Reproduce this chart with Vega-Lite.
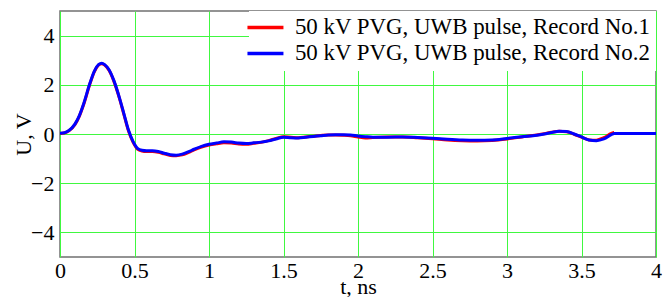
{
  "$schema": "https://vega.github.io/schema/vega-lite/v6.json",
  "width": 596,
  "height": 246,
  "autosize": "none",
  "padding": {"left": 60, "top": 11, "right": 13, "bottom": 40},
  "background": "white",
  "config": {
    "font": "Liberation Serif",
    "view": {"stroke": "#707070", "strokeWidth": 1.5},
    "axis": {
      "grid": true,
      "gridColor": "#40f840",
      "gridWidth": 1,
      "gridOpacity": 1,
      "ticks": false,
      "domain": false,
      "labelFont": "Liberation Serif",
      "labelFontSize": 22,
      "labelColor": "#000",
      "titleFont": "Liberation Serif",
      "titleFontSize": 22,
      "titleFontWeight": "normal",
      "titleColor": "#000"
    }
  },
  "data": {
    "values": [
      {"t": 0, "u": 0.02, "s": "Record No.1"},
      {"t": 0.03, "u": 0.04, "s": "Record No.1"},
      {"t": 0.06, "u": 0.13, "s": "Record No.1"},
      {"t": 0.1, "u": 0.38, "s": "Record No.1"},
      {"t": 0.13, "u": 0.73, "s": "Record No.1"},
      {"t": 0.16, "u": 1.22, "s": "Record No.1"},
      {"t": 0.2, "u": 2.02, "s": "Record No.1"},
      {"t": 0.23, "u": 2.53, "s": "Record No.1"},
      {"t": 0.26, "u": 2.81, "s": "Record No.1"},
      {"t": 0.28, "u": 2.86, "s": "Record No.1"},
      {"t": 0.3, "u": 2.8, "s": "Record No.1"},
      {"t": 0.33, "u": 2.58, "s": "Record No.1"},
      {"t": 0.36, "u": 2.17, "s": "Record No.1"},
      {"t": 0.4, "u": 1.43, "s": "Record No.1"},
      {"t": 0.43, "u": 0.77, "s": "Record No.1"},
      {"t": 0.46, "u": 0.12, "s": "Record No.1"},
      {"t": 0.49, "u": -0.33, "s": "Record No.1"},
      {"t": 0.52, "u": -0.61, "s": "Record No.1"},
      {"t": 0.55, "u": -0.69, "s": "Record No.1"},
      {"t": 0.58, "u": -0.71, "s": "Record No.1"},
      {"t": 0.62, "u": -0.71, "s": "Record No.1"},
      {"t": 0.66, "u": -0.74, "s": "Record No.1"},
      {"t": 0.7, "u": -0.81, "s": "Record No.1"},
      {"t": 0.74, "u": -0.87, "s": "Record No.1"},
      {"t": 0.78, "u": -0.88, "s": "Record No.1"},
      {"t": 0.82, "u": -0.85, "s": "Record No.1"},
      {"t": 0.86, "u": -0.76, "s": "Record No.1"},
      {"t": 0.9, "u": -0.65, "s": "Record No.1"},
      {"t": 0.95, "u": -0.53, "s": "Record No.1"},
      {"t": 1.0, "u": -0.45, "s": "Record No.1"},
      {"t": 1.05, "u": -0.4, "s": "Record No.1"},
      {"t": 1.1, "u": -0.36, "s": "Record No.1"},
      {"t": 1.15, "u": -0.37, "s": "Record No.1"},
      {"t": 1.2, "u": -0.41, "s": "Record No.1"},
      {"t": 1.25, "u": -0.42, "s": "Record No.1"},
      {"t": 1.3, "u": -0.38, "s": "Record No.1"},
      {"t": 1.35, "u": -0.34, "s": "Record No.1"},
      {"t": 1.4, "u": -0.27, "s": "Record No.1"},
      {"t": 1.45, "u": -0.18, "s": "Record No.1"},
      {"t": 1.5, "u": -0.11, "s": "Record No.1"},
      {"t": 1.55, "u": -0.13, "s": "Record No.1"},
      {"t": 1.6, "u": -0.15, "s": "Record No.1"},
      {"t": 1.65, "u": -0.12, "s": "Record No.1"},
      {"t": 1.7, "u": -0.09, "s": "Record No.1"},
      {"t": 1.75, "u": -0.06, "s": "Record No.1"},
      {"t": 1.8, "u": -0.04, "s": "Record No.1"},
      {"t": 1.85, "u": -0.04, "s": "Record No.1"},
      {"t": 1.9, "u": -0.05, "s": "Record No.1"},
      {"t": 1.95, "u": -0.07, "s": "Record No.1"},
      {"t": 2.0, "u": -0.12, "s": "Record No.1"},
      {"t": 2.05, "u": -0.16, "s": "Record No.1"},
      {"t": 2.1, "u": -0.14, "s": "Record No.1"},
      {"t": 2.2, "u": -0.12, "s": "Record No.1"},
      {"t": 2.3, "u": -0.12, "s": "Record No.1"},
      {"t": 2.4, "u": -0.15, "s": "Record No.1"},
      {"t": 2.5, "u": -0.19, "s": "Record No.1"},
      {"t": 2.6, "u": -0.24, "s": "Record No.1"},
      {"t": 2.7, "u": -0.27, "s": "Record No.1"},
      {"t": 2.8, "u": -0.28, "s": "Record No.1"},
      {"t": 2.9, "u": -0.26, "s": "Record No.1"},
      {"t": 3.0, "u": -0.2, "s": "Record No.1"},
      {"t": 3.1, "u": -0.12, "s": "Record No.1"},
      {"t": 3.2, "u": -0.04, "s": "Record No.1"},
      {"t": 3.25, "u": 0.01, "s": "Record No.1"},
      {"t": 3.3, "u": 0.07, "s": "Record No.1"},
      {"t": 3.35, "u": 0.11, "s": "Record No.1"},
      {"t": 3.4, "u": 0.09, "s": "Record No.1"},
      {"t": 3.45, "u": -0.01, "s": "Record No.1"},
      {"t": 3.5, "u": -0.13, "s": "Record No.1"},
      {"t": 3.55, "u": -0.24, "s": "Record No.1"},
      {"t": 3.6, "u": -0.25, "s": "Record No.1"},
      {"t": 3.65, "u": -0.15, "s": "Record No.1"},
      {"t": 3.7, "u": 0.02, "s": "Record No.1"},
      {"t": 3.72, "u": 0.06, "s": "Record No.1"},

      {"t": 0, "u": 0.03, "s": "Record No.2"},
      {"t": 0.03, "u": 0.05, "s": "Record No.2"},
      {"t": 0.06, "u": 0.14, "s": "Record No.2"},
      {"t": 0.1, "u": 0.4, "s": "Record No.2"},
      {"t": 0.13, "u": 0.75, "s": "Record No.2"},
      {"t": 0.16, "u": 1.25, "s": "Record No.2"},
      {"t": 0.2, "u": 2.05, "s": "Record No.2"},
      {"t": 0.23, "u": 2.55, "s": "Record No.2"},
      {"t": 0.26, "u": 2.83, "s": "Record No.2"},
      {"t": 0.28, "u": 2.88, "s": "Record No.2"},
      {"t": 0.3, "u": 2.82, "s": "Record No.2"},
      {"t": 0.33, "u": 2.6, "s": "Record No.2"},
      {"t": 0.36, "u": 2.2, "s": "Record No.2"},
      {"t": 0.4, "u": 1.45, "s": "Record No.2"},
      {"t": 0.43, "u": 0.8, "s": "Record No.2"},
      {"t": 0.46, "u": 0.15, "s": "Record No.2"},
      {"t": 0.49, "u": -0.3, "s": "Record No.2"},
      {"t": 0.52, "u": -0.58, "s": "Record No.2"},
      {"t": 0.55, "u": -0.66, "s": "Record No.2"},
      {"t": 0.58, "u": -0.68, "s": "Record No.2"},
      {"t": 0.62, "u": -0.68, "s": "Record No.2"},
      {"t": 0.66, "u": -0.71, "s": "Record No.2"},
      {"t": 0.7, "u": -0.78, "s": "Record No.2"},
      {"t": 0.74, "u": -0.84, "s": "Record No.2"},
      {"t": 0.78, "u": -0.86, "s": "Record No.2"},
      {"t": 0.82, "u": -0.82, "s": "Record No.2"},
      {"t": 0.86, "u": -0.73, "s": "Record No.2"},
      {"t": 0.9, "u": -0.62, "s": "Record No.2"},
      {"t": 0.95, "u": -0.5, "s": "Record No.2"},
      {"t": 1.0, "u": -0.42, "s": "Record No.2"},
      {"t": 1.05, "u": -0.37, "s": "Record No.2"},
      {"t": 1.1, "u": -0.32, "s": "Record No.2"},
      {"t": 1.15, "u": -0.33, "s": "Record No.2"},
      {"t": 1.2, "u": -0.37, "s": "Record No.2"},
      {"t": 1.25, "u": -0.39, "s": "Record No.2"},
      {"t": 1.3, "u": -0.36, "s": "Record No.2"},
      {"t": 1.35, "u": -0.33, "s": "Record No.2"},
      {"t": 1.4, "u": -0.28, "s": "Record No.2"},
      {"t": 1.45, "u": -0.2, "s": "Record No.2"},
      {"t": 1.5, "u": -0.13, "s": "Record No.2"},
      {"t": 1.55, "u": -0.15, "s": "Record No.2"},
      {"t": 1.6, "u": -0.16, "s": "Record No.2"},
      {"t": 1.65, "u": -0.13, "s": "Record No.2"},
      {"t": 1.7, "u": -0.1, "s": "Record No.2"},
      {"t": 1.75, "u": -0.07, "s": "Record No.2"},
      {"t": 1.8, "u": -0.04, "s": "Record No.2"},
      {"t": 1.85, "u": -0.03, "s": "Record No.2"},
      {"t": 1.9, "u": -0.03, "s": "Record No.2"},
      {"t": 1.95, "u": -0.04, "s": "Record No.2"},
      {"t": 2.0, "u": -0.08, "s": "Record No.2"},
      {"t": 2.05, "u": -0.11, "s": "Record No.2"},
      {"t": 2.1, "u": -0.13, "s": "Record No.2"},
      {"t": 2.2, "u": -0.13, "s": "Record No.2"},
      {"t": 2.3, "u": -0.12, "s": "Record No.2"},
      {"t": 2.4, "u": -0.14, "s": "Record No.2"},
      {"t": 2.5, "u": -0.17, "s": "Record No.2"},
      {"t": 2.6, "u": -0.21, "s": "Record No.2"},
      {"t": 2.7, "u": -0.24, "s": "Record No.2"},
      {"t": 2.8, "u": -0.25, "s": "Record No.2"},
      {"t": 2.9, "u": -0.24, "s": "Record No.2"},
      {"t": 3.0, "u": -0.18, "s": "Record No.2"},
      {"t": 3.1, "u": -0.11, "s": "Record No.2"},
      {"t": 3.2, "u": -0.05, "s": "Record No.2"},
      {"t": 3.25, "u": 0.0, "s": "Record No.2"},
      {"t": 3.3, "u": 0.06, "s": "Record No.2"},
      {"t": 3.35, "u": 0.11, "s": "Record No.2"},
      {"t": 3.4, "u": 0.1, "s": "Record No.2"},
      {"t": 3.45, "u": 0.0, "s": "Record No.2"},
      {"t": 3.5, "u": -0.12, "s": "Record No.2"},
      {"t": 3.55, "u": -0.24, "s": "Record No.2"},
      {"t": 3.6, "u": -0.27, "s": "Record No.2"},
      {"t": 3.65, "u": -0.2, "s": "Record No.2"},
      {"t": 3.7, "u": -0.03, "s": "Record No.2"},
      {"t": 3.72, "u": 0.02, "s": "Record No.2"},
      {"t": 3.8, "u": 0.02, "s": "Record No.2"},
      {"t": 4.0, "u": 0.02, "s": "Record No.2"}
    ]
  },
  "mark": {"type": "line", "strokeWidth": 3, "clip": true, "interpolate": "monotone"},
  "encoding": {
    "x": {
      "field": "t",
      "type": "quantitative",
      "scale": {"domain": [0, 4], "nice": false, "zero": false},
      "axis": {
        "values": [0, 0.5, 1, 1.5, 2, 2.5, 3, 3.5, 4],
        "format": "~g",
        "labelPadding": 3,
        "labelFlush": false,
        "title": "t, ns",
        "titlePadding": -5
      }
    },
    "y": {
      "field": "u",
      "type": "quantitative",
      "scale": {"domain": [-5, 5], "nice": false},
      "axis": {
        "values": [-4, -2, 0, 2, 4],
        "labelPadding": 6,
        "title": "U, V",
        "titlePadding": -5
      }
    },
    "color": {
      "field": "s",
      "type": "nominal",
      "scale": {"domain": ["Record No.1", "Record No.2"], "range": ["#ff0000", "#0000ff"]},
      "legend": {
        "title": null,
        "orient": "top-right",
        "offset": 0,
        "labelExpr": "'50 kV PVG, UWB pulse, ' + datum.label",
        "labelFont": "Liberation Serif",
        "labelFontSize": 22.9,
        "labelColor": "#000",
        "labelLimit": 600,
        "labelOffset": 18,
        "symbolType": "M-2,0H2",
        "symbolStrokeWidth": 3.5,
        "symbolSize": 324,
        "rowPadding": 2,
        "padding": 5,
        "fillColor": "white",
        "strokeColor": null
      }
    }
  }
}
